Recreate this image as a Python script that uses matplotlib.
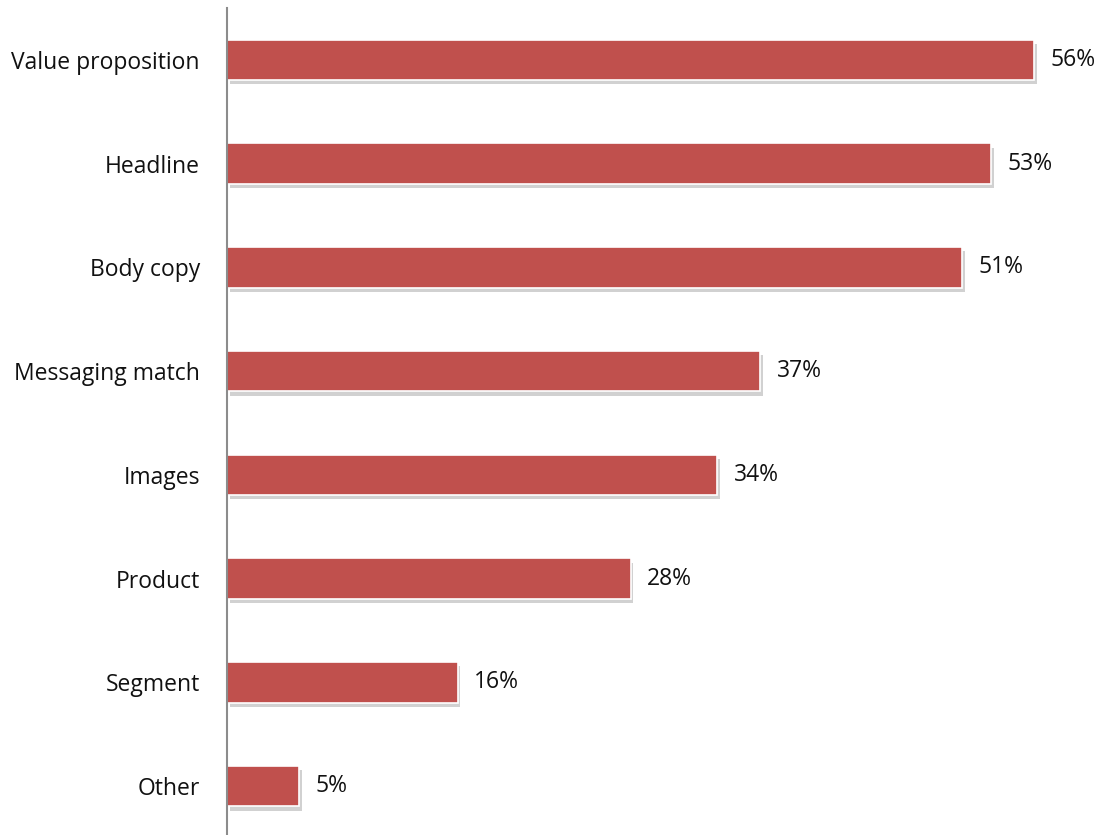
import matplotlib.pyplot as plt
import matplotlib.patheffects as pe

categories = ['Value proposition', 'Headline', 'Body copy', 'Messaging match',
              'Images', 'Product', 'Segment', 'Other']
values = [56, 53, 51, 37, 34, 28, 16, 5]

plt.rcParams['font.family'] = ['Open Sans', 'DejaVu Sans']

fig = plt.figure(figsize=(11.02, 8.35), dpi=100)
ax = fig.add_axes([227 / 1102, -3 / 835, 1 - 227 / 1102, 830 / 835])

pos = list(range(len(categories)))[::-1]
bars = ax.barh(pos, values, height=0.39, color='#C0504D', edgecolor='white', linewidth=1.2)
for b in bars:
    b.set_path_effects([pe.SimplePatchShadow(offset=(2, -3), shadow_rgbFace='#999999', alpha=0.45),
                        pe.Normal()])

for p, v in zip(pos, values):
    ax.text(v + 1.15, p, f'{v}%', va='center', ha='left', fontsize=16.5, color='#111111')

ax.set_xlim(0, 60.7)
ax.set_ylim(-0.5, len(categories) - 0.5)
ax.set_yticks(pos)
ax.set_yticklabels(categories, fontsize=16.5, color='#111111')
ax.tick_params(axis='y', length=0, pad=19.5)
ax.set_xticks([])
for s in ['top', 'right', 'bottom']:
    ax.spines[s].set_visible(False)
ax.spines['left'].set_color('#8c8c8c')
ax.spines['left'].set_linewidth(1.5)

fig.savefig('out.png', dpi=100)
